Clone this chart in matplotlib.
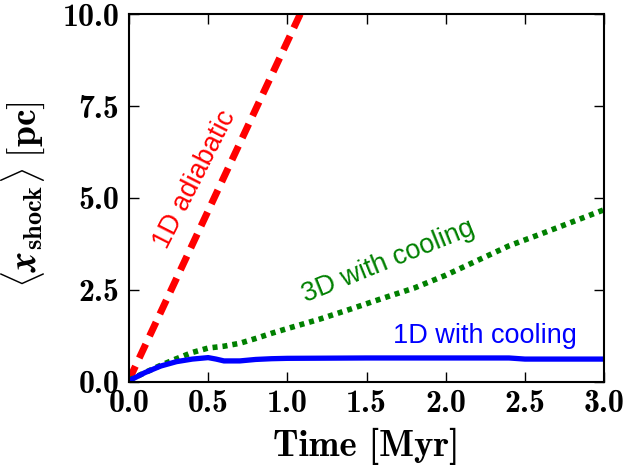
import matplotlib
matplotlib.use('Agg')
import matplotlib.pyplot as plt
from matplotlib.ticker import FuncFormatter

plt.rcParams['mathtext.fontset'] = 'cm'
plt.rcParams['font.family'] = ['Liberation Sans', 'DejaVu Sans']

# 1D adiabatic (red dashed)
t_adi = [0.0, 0.25, 0.5, 0.75, 1.0, 1.25]
x_adi = [0.05, 2.35, 4.65, 6.95, 9.25, 11.55]

# 3D with cooling (green dotted)
t_3d = [0.0, 0.1, 0.2, 0.3, 0.4, 0.5, 0.6, 0.7, 0.8, 0.9, 1.0, 1.2, 1.4,
        1.6, 1.8, 2.0, 2.2, 2.4, 2.6, 2.8, 3.0]
x_3d = [0.05, 0.25, 0.45, 0.63, 0.8, 0.92, 0.97, 1.05, 1.18, 1.32, 1.45, 1.7,
        1.98, 2.27, 2.55, 2.9, 3.3, 3.7, 4.02, 4.35, 4.68]

# 1D with cooling (blue solid)
t_1d = [0.0, 0.1, 0.2, 0.3, 0.4, 0.5, 0.55, 0.6, 0.7, 0.8, 0.9, 1.0, 1.5,
        2.0, 2.4, 2.5, 3.0]
x_1d = [0.03, 0.25, 0.43, 0.55, 0.62, 0.66, 0.62, 0.57, 0.57, 0.61, 0.63,
        0.64, 0.65, 0.65, 0.65, 0.62, 0.62]

fig = plt.figure(figsize=(6.26, 4.68), dpi=100)
ax = fig.add_axes([0.206, 0.184, 0.759, 0.786])

ax.plot(t_adi, x_adi, color='red', ls='--', lw=5, dashes=(2.2, 1.3))
ax.plot(t_3d, x_3d, color='green', ls=':', lw=4, dashes=(0.9, 0.9))
ax.plot(t_1d, x_1d, color='blue', ls='-', lw=3.8)

ax.text(0.42, 5.5, '1D adiabatic', color='red', fontsize=19.5,
        rotation=63, ha='center', va='center')
ax.text(1.64, 3.26, '3D with cooling', color='green', fontsize=19.5,
        rotation=22, ha='center', va='center')
ax.text(2.25, 1.25, '1D with cooling', color='blue', fontsize=19.5,
        ha='center', va='center')

ax.set_xlim(0, 3)
ax.set_ylim(0, 10)
ax.set_xticks([0, 0.5, 1.0, 1.5, 2.0, 2.5, 3.0])
ax.set_yticks([0, 2.5, 5.0, 7.5, 10.0])
fmt = FuncFormatter(lambda v, p: '%.1f' % v)
ax.xaxis.set_major_formatter(fmt)
ax.yaxis.set_major_formatter(fmt)
ax.tick_params(direction='in', length=7, width=1, labelsize=23,
               top=True, right=True, labelfontfamily='cmb10')
ax.tick_params(axis='x', pad=5)
ax.tick_params(axis='y', pad=7)
for s in ax.spines.values():
    s.set_linewidth(1.5)

ax.set_xlabel('Time [Myr]', fontsize=26.5, fontfamily='cmb10')
ax.xaxis.set_label_coords(0.5, -0.125)
ax.set_ylabel(r'$\langle \mathbfit{x}_{\mathbf{shock}} \rangle\;\mathbf{[pc]}$',
              fontsize=27)
ax.yaxis.set_label_coords(-0.173, 0.51)

fig.savefig('out.png', dpi=100)
plt.close(fig)
